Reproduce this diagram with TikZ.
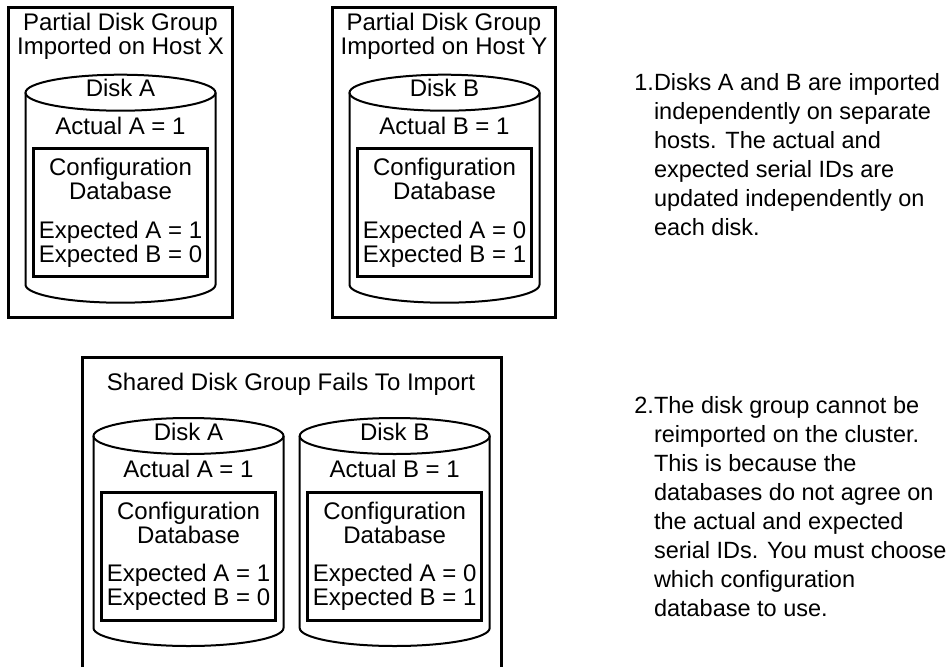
\documentclass[tikz,border=0pt]{standalone}
\usepackage{fontspec}
\setmainfont{Liberation Sans}
\usetikzlibrary{positioning}

\tikzset{
  lbl/.style={font=\fontsize{24}{24}\selectfont, inner sep=0pt, anchor=base, align=center},
  note/.style={font=\fontsize{23.5}{29}\selectfont, inner sep=0pt, anchor=base west, align=left},
  frame/.style={line width=3pt}
}

\begin{document}
\begin{tikzpicture}[x=1pt,y=1pt,every path/.style={line width=2pt}]
  \def\rx{95}
  \def\ry{18}
  \def\dw{87}
  \useasboundingbox (0,0) rectangle (950,-667);
  \draw[frame] (8.5,-7.5) rectangle (232,-317);
  \node[lbl] (host-x) at (120.5,-54.5) {Partial Disk Group\\Imported on Host X};
  \draw[frame] (332,-7.5) rectangle (555.5,-317);
  \node[lbl] (host-y) at (444,-54.5) {Partial Disk Group\\Imported on Host Y};
  \draw[frame] (82,-667) |- (501.7,-357.7) -- (501.7,-667);
  \node[lbl] (shared) at (291,-390) {Shared Disk Group Fails To Import};
  \foreach \n/\cx/\ty/\dk/\xa/\xb in {x/120.5/92.7/A/1/0, y/444.5/92.7/B/0/1,
                                      sa/188.5/436/A/1/0, sb/394.7/436/B/0/1}
     {\draw (\cx-\rx,-\ty) -- (\cx-\rx,-\ty-192)
         arc[start angle=180, end angle=360, x radius=\rx, y radius=\ry] -- (\cx+\rx,-\ty);
      \draw (\cx,-\ty) ellipse [x radius=\rx, y radius=\ry];
      \draw[frame] (\cx-\dw,-\ty-56) rectangle (\cx+\dw,-\ty-184);
      \node[lbl] (disk-\n) at (\cx,-\ty-4) {Disk \dk};
      \node[lbl] (actual-\n) at (\cx,-\ty-41.5) {Actual \dk{} = 1};
      \node[lbl] (db-\n) at (\cx,-\ty-107) {Configuration\\Database};
      \node[lbl] (exp-\n) at (\cx,-\ty-169.5) {Expected A = \xa\\Expected B = \xb};}
  \node[note] (note1) at (653,-235.5) {\llap{1.}Disks A and B are imported\\independently on separate\\
    hosts. The actual and\\expected serial IDs are\\updated independently on\\each disk.};
  \node[note] (note2) at (653,-616) {\llap{2.}The disk group cannot be\\reimported on the cluster.\\
    This is because the\\databases do not agree on\\the actual and expected\\
    serial IDs. You must choose\\which configuration\\database to use.};
\end{tikzpicture}
\end{document}
